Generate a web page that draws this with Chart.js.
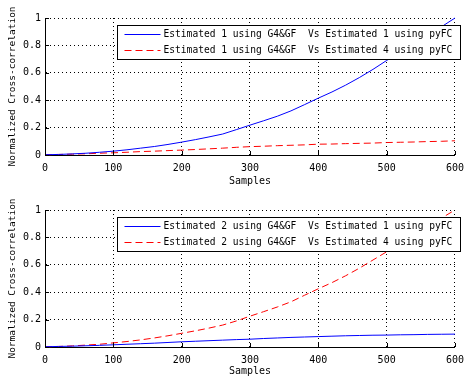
<!DOCTYPE html>
<html>
<head>
<meta charset="utf-8">
<script src="https://cdn.jsdelivr.net/npm/chart.js@4.4.0/dist/chart.umd.min.js"></script>
<style>
    html, body { margin: 0; padding: 0; background: #fff; overflow: hidden; }
    .box { position: absolute; left: 0; width: 471px; height: 188px; }
</style>
</head>
<body>
<div class="box" style="top:0"><canvas id="topChart"></canvas></div>
<div class="box" style="top:190px"><canvas id="bottomChart"></canvas></div>
<script>
    // Datos (cada 20 muestras)
    const samples = [0, 20, 40, 60, 80, 100, 120, 140, 160, 180, 200, 220, 240, 260, 280, 300,
                     320, 340, 360, 380, 400, 420, 440, 460, 480, 500, 520, 540, 560, 580, 600];

    const est1VsEst1 = [0.002, 0.004, 0.008, 0.013, 0.02, 0.028, 0.038, 0.05, 0.062, 0.077, 0.094,
                        0.112, 0.132, 0.153, 0.185, 0.218, 0.25, 0.283, 0.322, 0.368, 0.415,
                        0.46, 0.51, 0.565, 0.625, 0.69, 0.75, 0.81, 0.87, 0.935, 1.0];
    const est1VsEst4 = [0.002, 0.004, 0.006, 0.009, 0.013, 0.016, 0.02, 0.025, 0.028, 0.032, 0.036,
                        0.04, 0.045, 0.05, 0.056, 0.061, 0.064, 0.068, 0.071, 0.074, 0.079,
                        0.08, 0.083, 0.085, 0.087, 0.091, 0.093, 0.095, 0.098, 0.1, 0.104];
    const est2VsEst1 = [0.002, 0.004, 0.006, 0.009, 0.012, 0.016, 0.02, 0.024, 0.028, 0.033, 0.038,
                        0.042, 0.046, 0.05, 0.054, 0.057, 0.062, 0.066, 0.07, 0.073, 0.076,
                        0.079, 0.082, 0.084, 0.086, 0.087, 0.089, 0.09, 0.092, 0.093, 0.094];
    const est2VsEst4 = [0.002, 0.004, 0.008, 0.014, 0.02, 0.03, 0.04, 0.052, 0.066, 0.082, 0.1,
                        0.118, 0.138, 0.16, 0.19, 0.225, 0.258, 0.292, 0.33, 0.378, 0.425,
                        0.47, 0.52, 0.575, 0.635, 0.695, 0.755, 0.815, 0.875, 0.94, 1.0];

    const labelsTop = ['Estimated 1 using G4&GF  Vs Estimated 1 using pyFC',
                       'Estimated 1 using G4&GF  Vs Estimated 4 using pyFC'];
    const labelsBottom = ['Estimated 2 using G4&GF  Vs Estimated 1 using pyFC',
                          'Estimated 2 using G4&GF  Vs Estimated 4 using pyFC'];

    const xTicks = [0, 100, 200, 300, 400, 500, 600];
    const yTickLabels = ['0', '0.2', '0.4', '0.6', '0.8', '1'];

    const MONO = "'DejaVu Sans Mono', monospace";

    // Marcas hacia dentro y leyenda dentro del area (estilo MATLAB)
    const matlabLook = {
        id: 'matlabLook',
        afterDatasetsDraw(chart) {
            const { ctx, chartArea: a, scales: { x, y } } = chart;
            ctx.save();
            ctx.strokeStyle = '#000';
            ctx.lineWidth = 1;
            ctx.setLineDash([]);
            ctx.beginPath();
            x.ticks.forEach(t => {
                const px = Math.round(x.getPixelForValue(t.value)) + 0.5;
                ctx.moveTo(px, a.bottom);
                ctx.lineTo(px, a.bottom - 4);
            });
            y.ticks.forEach(t => {
                const py = Math.round(y.getPixelForValue(t.value)) + 0.5;
                ctx.moveTo(a.left, py);
                ctx.lineTo(a.left + 4, py);
            });
            ctx.stroke();

            // Leyenda
            const bx = 117.5, by = a.top + 7.5, bw = 343, bh = 34;
            ctx.fillStyle = '#fff';
            ctx.fillRect(bx, by, bw, bh);
            ctx.strokeRect(bx, by, bw, bh);
            ctx.font = '9.6px ' + MONO;
            ctx.textBaseline = 'middle';
            chart.data.datasets.forEach((ds, i) => {
                const ry = Math.round(by + 8.5 + i * 16) + 0.5;
                ctx.strokeStyle = ds.borderColor;
                ctx.setLineDash(ds.borderDash || []);
                ctx.beginPath();
                ctx.moveTo(bx + 7, ry);
                ctx.lineTo(bx + 43, ry);
                ctx.stroke();
                ctx.fillStyle = '#000';
                ctx.fillText(ds.label, bx + 46, ry);
            });
            ctx.restore();
        }
    };

    function buildChart(id, labels, blueData, redData, padTop, xHeight) {
        const ctx = document.getElementById(id).getContext('2d');
        return new Chart(ctx, {
            type: 'line',
            data: {
                datasets: [{
                    label: labels[0],
                    data: samples.map((s, i) => ({ x: s, y: blueData[i] })),
                    borderColor: '#0000ff',
                    borderWidth: 1,
                    pointRadius: 0,
                    tension: 0,
                    clip: 2
                }, {
                    label: labels[1],
                    data: samples.map((s, i) => ({ x: s, y: redData[i] })),
                    borderColor: '#ff0000',
                    borderWidth: 1,
                    borderDash: [7, 4],
                    pointRadius: 0,
                    tension: 0,
                    clip: 2
                }]
            },
            options: {
                responsive: true,
                maintainAspectRatio: false,
                animation: false,
                layout: { padding: { top: padTop, right: 9, left: 0, bottom: 0 } },
                plugins: { legend: { display: false }, tooltip: { enabled: false } },
                scales: {
                    x: {
                        type: 'linear',
                        min: 0,
                        max: 600,
                        afterFit: s => { s.height = xHeight; },
                        afterBuildTicks: s => { s.ticks = xTicks.map(v => ({ value: v })); },
                        ticks: { color: '#000', padding: 7, font: { family: MONO, size: 10 }, maxRotation: 0 },
                        grid: { color: '#000', drawTicks: false },
                        border: { color: '#000', dash: [1, 3] },
                        title: { display: true, text: 'Samples', color: '#000',
                                 font: { family: MONO, size: 10 }, padding: { top: 0, bottom: 1 } }
                    },
                    y: {
                        min: 0,
                        max: 1,
                        afterFit: s => { s.width = 45; },
                        ticks: {
                            stepSize: 0.2,
                            color: '#000',
                            padding: 4,
                            font: { family: MONO, size: 10 },
                            callback: (v, i) => yTickLabels[i]
                        },
                        grid: { color: '#000', drawTicks: false },
                        border: { color: '#000', dash: [1, 3] },
                        title: { display: true, text: 'Normalized Cross-correlation', color: '#000',
                                 font: { family: MONO, size: 9.5 }, padding: { top: 7, bottom: 0 } }
                    }
                }
            },
            plugins: [matlabLook]
        });
    }

    const topChart = buildChart('topChart', labelsTop, est1VsEst1, est1VsEst4, 18, 33);
    const bottomChart = buildChart('bottomChart', labelsBottom, est2VsEst1, est2VsEst4, 20, 31);
</script>
</body>
</html>
